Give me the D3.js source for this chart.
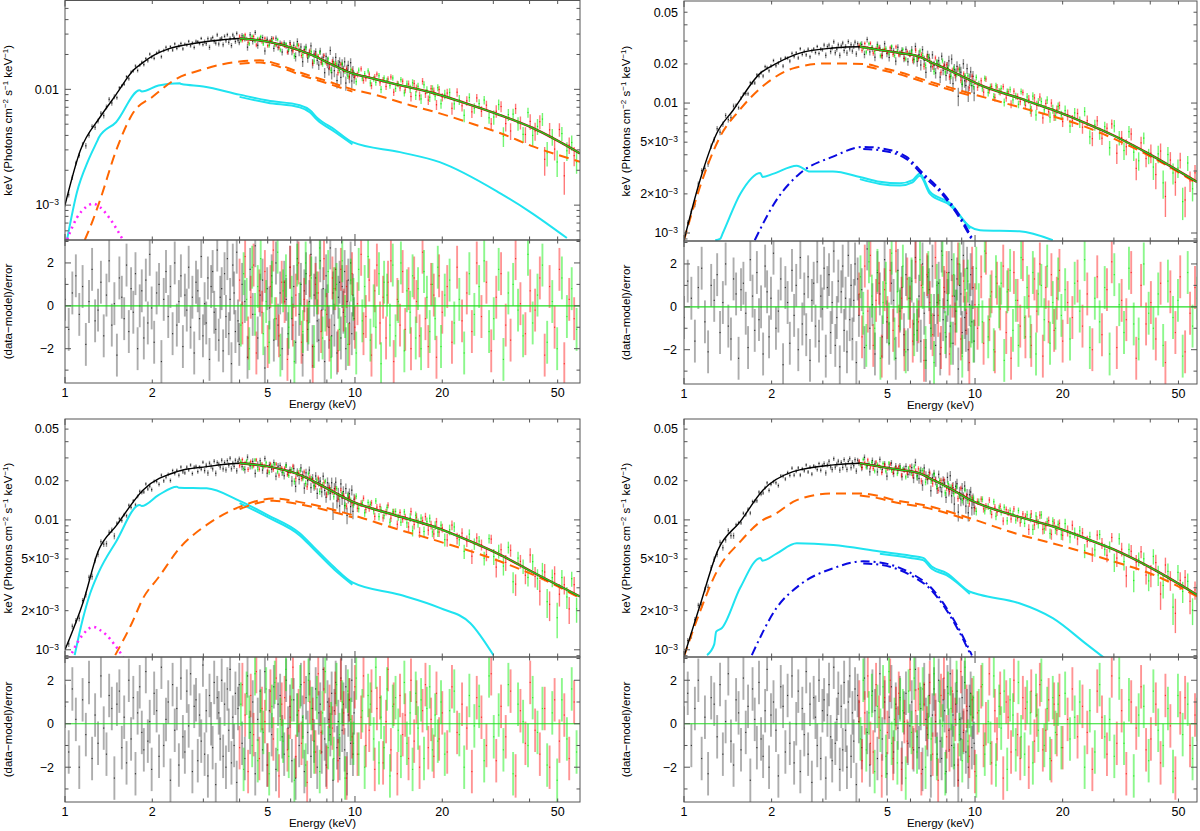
<!DOCTYPE html>
<html>
<head>
<meta charset="utf-8">
<script src="https://cdn.jsdelivr.net/npm/d3@7"></script>
<style>
  body { margin: 0; background: #fff; }
  svg { display: block; font-family: "Liberation Sans", Arial, Helvetica, sans-serif; }
</style>
</head>
<body>
<svg id="chart" width="1200" height="831"></svg>
<script>
// ---------- bin energies (keV) ----------
const xisE = [1.00,1.03,1.06,1.09,1.12,1.15,1.18,1.21,1.24,1.27,1.30,1.33,1.36,1.39,1.42,1.45,1.48,1.51,1.54,1.57,
  1.60,1.63,1.66,1.69,1.72,1.75,1.78,1.81,1.84,1.87,1.90,1.93,1.96,1.99,
  2.03,2.07,2.11,2.15,2.19,2.23,2.27,2.31,2.35,2.39,2.43,2.47,2.51,2.55,2.59,2.63,2.67,2.71,2.75,2.79,
  2.83,2.87,2.91,2.95,2.99,3.03,3.07,3.11,3.15,3.19,3.23,3.27,3.31,3.35,3.39,3.43,3.47,3.51,3.55,3.59,
  3.63,3.67,3.71,3.75,3.79,3.83,3.87,3.91,3.95,3.99,
  4.08,4.17,4.26,4.35,4.44,4.53,4.62,4.71,4.80,4.89,4.98,5.07,5.16,5.25,5.34,5.43,5.52,5.61,5.70,5.79,
  5.88,5.97,6.06,6.15,6.24,6.33,6.42,6.51,6.60,6.69,6.78,6.87,6.96,7.05,7.14,7.23,7.32,7.41,7.50,7.59,
  7.68,7.77,7.86,7.95,8.04,8.13,8.22,8.31,8.40,8.49,8.58,8.67,8.76,8.85,8.94,9.03,9.12,9.21,9.30,9.39,
  9.48,9.57,9.66,9.75,9.84,9.93];
const fpmaE = [4.00,4.09,4.18,4.28,4.37,4.47,4.57,4.68,4.78,4.89,5.00,5.11,5.23,5.35,5.47,5.59,5.72,5.85,5.98,6.11,
  6.25,6.39,6.54,6.68,6.84,6.99,7.15,7.31,7.47,7.64,7.82,7.99,8.17,8.36,8.55,8.74,8.94,9.14,9.35,9.56,
  9.77,9.99,10.2,10.5,10.7,10.9,11.2,11.4,11.7,11.9,12.2,12.5,12.8,13.0,13.3,13.6,14.0,14.3,14.6,14.9,
  15.3,15.6,16.0,16.3,16.7,17.1,17.5,17.9,18.3,18.7,19.1,19.5,20.0,20.8,21.6,22.5,23.4,24.3,25.3,26.3,
  27.3,28.4,29.5,30.7,31.9,33.1,34.4,35.8,37.2,38.7,40.2,41.8,43.4,45.1,46.9,48.8,50.7,52.7,54.8,57.0];
const fpmbE = [4.04,4.13,4.23,4.32,4.42,4.52,4.62,4.73,4.83,4.94,5.06,5.17,5.29,5.41,5.53,5.65,5.78,5.91,6.05,6.18,
  6.32,6.47,6.61,6.76,6.91,7.07,7.23,7.39,7.56,7.73,7.90,8.08,8.27,8.45,8.64,8.84,9.04,9.24,9.45,9.67,
  9.88,10.1,10.3,10.6,10.8,11.1,11.3,11.6,11.8,12.1,12.3,12.6,12.9,13.2,13.5,13.8,14.1,14.4,14.8,15.1,
  15.5,15.8,16.2,16.5,16.9,17.3,17.7,18.1,18.5,18.9,19.3,19.8,20.4,21.2,22.0,22.9,23.8,24.8,25.8,26.8,
  27.9,29.0,30.1,31.3,32.5,33.8,35.1,36.5,38.0,39.5,41.0,42.6,44.3,46.0,47.9,49.8,51.7,53.8,55.9,58.1];

// relative 1-sigma errors of the unfolded points, per energy band (upper band edge)
const xisSigE = [1.5, 2, 3, 4, 6, 8, 10.5];
const xisSig  = [0.05, 0.035, 0.035, 0.045, 0.06, 0.08, 0.11];
const nuSigE  = [6, 10, 15, 20, 30, 40, 61];
const nuSig   = [0.04, 0.05, 0.06, 0.08, 0.10, 0.13, 0.17];

// ---------- panel 1 (top left) ----------
const totE_TL = [1.00,1.13,1.32,1.50,1.72,1.86,2.05,2.30,2.60,2.92,3.50,4.00,5.00,6.45,7.20,8.00,9.80,10.95,14.0,18.6,24.0,31.6,41.3,59.7];
const totV_TL = [1.0e-3,2.98e-3,5.74e-3,9.0e-3,1.46e-2,1.71e-2,2.00e-2,2.26e-2,2.42e-2,2.54e-2,2.68e-2,2.75e-2,2.58e-2,2.17e-2,1.95e-2,1.72e-2,1.37e-2,1.28e-2,1.10e-2,9.3e-3,7.6e-3,6.0e-3,4.6e-3,2.8e-3];
const cyE_TL  = [1.016,1.10,1.20,1.29,1.31,1.50,1.81,1.84,2.10,2.49,2.52,3.00,4.00,5.00,6.45,7.00,7.40,8.50,9.80,14.3,19.6,31.6,40.0,53.8];
const cyV_TL  = [5.0e-4,1.3e-3,2.4e-3,3.55e-3,3.85e-3,5.2e-3,9.8e-3,9.6e-3,1.08e-2,1.13e-2,1.11e-2,1.06e-2,9.0e-3,8.0e-3,7.3e-3,6.6e-3,5.7e-3,4.5e-3,3.5e-3,2.87e-3,2.35e-3,1.27e-3,8.8e-4,5.2e-4];
const orE_TL  = [1.17,1.25,1.32,1.50,1.72,2.00,2.43,2.92,3.50,4.00,4.70,5.20,6.45,8.00,9.80,11.87,15.5,19.6,26.3,31.6,41.3,59.7];
const orV_TL  = [5.0e-4,7.5e-4,1.1e-3,2.95e-3,6.3e-3,8.6e-3,1.24e-2,1.46e-2,1.65e-2,1.74e-2,1.78e-2,1.70e-2,1.40e-2,1.18e-2,1.00e-2,8.9e-3,7.3e-3,6.2e-3,4.9e-3,4.2e-3,3.2e-3,2.37e-3];
const mgE_TL  = [1.00,1.04,1.10,1.18,1.25,1.32,1.42,1.52,1.60];
const mgV_TL  = [4.5e-4,5.8e-4,7.8e-4,9.6e-4,1.03e-3,9.6e-4,7.8e-4,6.0e-4,4.8e-4];
const resXis_TL = [0.3,-1.1,0.6,1.4,-0.4,0.9,-1.8,0.2,1.7,-0.7, -0.2,1.1,-1.4,0.5,2.1,-0.9,0.1,-2.3,1.3,0.4,
  -0.6,1.9,-1.2,0.8,-0.3,1.5,-2.0,0.0,0.7,-1.5, 1.2,-0.8,2.4,-0.1,-1.7,0.6,1.0,-2.6,0.3,1.6,
  -0.5,0.9,-1.3,2.0,-0.9,0.2,1.4,-1.9,0.5,-0.2, 1.8,-1.0,0.4,-2.2,1.1,0.7,-0.6,2.3,-1.4,0.1,
  -0.8,1.3,-2.5,0.9,1.6,-0.3,-1.1,2.6,-1.6,0.4, 0.8,-2.1,1.5,-0.5,2.2,-1.3,0.3,-2.7,1.9,0.6,
  -1.2,2.5,-0.7,-1.8,1.0,0.2,-2.4,1.7,-0.4,2.8, -1.5,0.5,1.2,-2.9,0.8,-0.1,1.4,-1.6,2.0,-0.9,
  0.6,-2.0,1.1,0.3,-1.3,1.8,-0.6,0.9,-1.7,2.2, -0.4,1.0,-2.3,0.7,1.5,-1.1,0.2,2.4,-1.9,0.5,
  1.3,-0.7,-1.6,2.1,-0.2,0.8,-2.6,1.4,0.0,-1.0, 2.7,-1.4,0.6,-0.9,1.7,-2.2,0.4,1.1,-1.5,0.9,
  -0.3,1.6,-2.0,0.2,1.2,-0.8,2.0,-1.3,0.5,-0.6];
const resFpma_TL = [1.2,-0.8,2.3,-1.5,0.4,1.9,-2.2,0.7,-0.3,1.6, -1.9,0.9,2.6,-0.6,-1.4,1.1,0.2,-2.5,1.8,-0.9,
  0.5,2.0,-1.7,0.3,-0.7,1.4,-2.8,1.0,0.6,-1.2, 2.2,-0.4,-1.6,1.3,0.8,-2.1,1.7,-0.2,0.9,-1.8,
  1.5,-1.0,0.1,2.4,-1.3,-0.5,1.2,-2.3,0.7,1.9, -0.8,0.4,-1.5,1.1,2.1,-2.6,0.3,-0.9,1.6,-1.1,
  0.8,-2.0,1.3,0.2,-1.4,2.5,-0.6,-1.9,1.0,0.5, -2.4,1.4,-0.3,0.9,-1.7,1.8,-0.7,0.6,-1.2,2.0,
  -0.5,1.1,-2.1,0.4,1.5,-0.9,-1.6,2.2,0.1,-1.3, 0.7,-0.2,1.3,-2.3,0.9,-1.0,1.7,-2.7,0.3,-0.6];
const resFpmb_TL = [-0.9,1.5,0.3,-2.0,1.8,-0.4,0.9,2.2,-1.3,0.2, -1.7,1.1,-0.6,2.5,-2.3,0.7,1.4,-1.0,0.4,-2.6,
  1.9,0.1,-1.2,2.0,-0.8,1.3,-1.9,0.6,2.7,-1.5, -0.2,1.6,-2.4,0.8,1.0,-1.1,2.1,-0.5,-1.8,1.2,
  0.3,-2.2,1.7,-0.7,0.9,2.3,-1.6,0.0,-1.0,1.5, -2.7,1.1,0.5,-0.9,1.9,-1.4,0.2,2.0,-2.1,0.7,
  -0.3,1.4,-1.5,0.8,-2.0,1.6,0.4,-1.2,1.0,-0.6, 1.8,-1.9,0.5,1.2,-0.8,0.3,-2.2,1.5,-0.4,0.9,
  2.1,-1.2,-0.6,1.7,-2.5,0.6,1.0,-0.2,-1.4,2.4, -0.8,0.5,1.9,-1.7,0.2,-2.0,1.3,-0.5,0.8,-1.1];

// ---------- panel 2 (top right) ----------
const totE_TR = [1.00,1.135,1.296,1.475,1.83,2.08,2.50,3.25,4.02,4.71,5.50,6.46,7.00,8.20,9.60,10.4,14.2,18.5,24.2,29.8,39.0,57.9];
const totV_TR = [8.8e-4,2.55e-3,5.85e-3,8.8e-3,1.70e-2,2.02e-2,2.42e-2,2.65e-2,2.71e-2,2.56e-2,2.43e-2,2.27e-2,2.08e-2,1.78e-2,1.50e-2,1.38e-2,1.09e-2,8.85e-3,6.95e-3,5.65e-3,4.14e-3,2.47e-3];
const orE_TR  = [1.00,1.135,1.33,1.55,1.83,1.92,2.37,3.10,4.25,4.71,5.40,7.00,9.60,14.2,18.5,24.2,29.8,40.8,57.9];
const orV_TR  = [8.8e-4,2.27e-3,5.5e-3,8.8e-3,1.30e-2,1.42e-2,1.85e-2,2.02e-2,1.99e-2,1.88e-2,1.75e-2,1.46e-2,1.19e-2,9.3e-3,7.9e-3,6.5e-3,5.35e-3,3.8e-3,2.4e-3];
const cyE_TR  = [1.28,1.33,1.36,1.56,1.83,1.86,2.02,2.44,2.71,3.25,4.02,4.71,5.52,6.10,6.46,7.00,8.20,9.60,10.4,14.2,18.5];
const cyV_TR  = [8.8e-4,9.0e-4,1.0e-3,2.0e-3,2.9e-3,2.7e-3,2.85e-3,3.3e-3,2.97e-3,2.97e-3,2.7e-3,2.48e-3,2.41e-3,2.55e-3,2.87e-3,2.08e-3,1.7e-3,1.12e-3,1.05e-3,1.03e-3,8.8e-4];
const blE_TR  = [1.75,2.08,2.50,3.25,4.13,4.71,5.80,6.63,7.60,8.90,9.85];
const blV_TR  = [8.8e-4,1.8e-3,2.87e-3,3.87e-3,4.6e-3,4.5e-3,3.87e-3,2.87e-3,2.14e-3,1.33e-3,8.8e-4];
const resXis_TR = [-0.5,1.2,0.4,-1.6,0.9,1.8,-0.7,-2.1,1.0,0.3, 1.5,-1.2,0.2,2.0,-0.9,-1.5,1.3,0.6,-2.4,0.8,
  1.1,-0.3,-1.9,2.2,0.5,-1.1,1.6,-0.6,0.0,-2.2, 1.9,0.7,-1.4,0.4,2.5,-1.0,-0.2,1.3,-2.7,0.9,
  0.2,-1.7,1.7,-0.4,1.0,-2.0,2.3,-0.8,0.6,-1.3, 1.4,-2.5,0.3,1.1,-0.9,2.1,-1.6,0.5,-0.1,1.8,
  -2.3,0.9,1.5,-1.2,0.2,2.6,-1.8,-0.5,1.2,-2.8, 0.7,1.9,-1.1,0.4,-2.1,2.4,-0.6,1.0,-1.5,0.3,
  2.0,-2.6,1.3,-0.4,0.8,-1.9,2.7,-1.0,0.1,-2.2, 1.6,0.6,-1.4,2.2,-0.7,-1.7,1.1,0.3,-2.4,1.7,
  -0.2,0.9,-1.3,1.5,-2.0,0.4,1.2,-0.8,2.3,-1.1, 0.5,-1.6,2.0,-0.3,-2.5,1.4,0.8,-1.0,1.9,-0.4,
  -1.8,0.2,1.1,-2.2,2.6,-0.6,0.7,-1.4,0.3,1.6, -0.9,2.2,-1.7,0.5,-0.2,1.3,-2.9,1.0,0.6,-1.2,
  2.4,-0.5,-1.1,1.8,-2.0,0.1,1.5,-0.7,0.9,-1.6];
const resFpma_TR = [0.6,-1.4,1.9,-0.2,2.4,-1.8,0.3,1.1,-2.3,0.8, -0.5,1.7,-1.1,2.6,-0.9,0.4,-2.0,1.3,0.0,-1.6,
  2.1,-0.7,1.0,-2.5,1.5,0.2,-1.3,2.3,-0.4,-1.9, 0.9,1.6,-2.2,0.5,-0.8,2.0,-1.5,1.2,-0.3,-2.6,
  1.8,0.1,-1.0,1.4,-1.7,2.5,-0.6,0.7,-2.1,1.1, -0.1,1.9,-1.2,0.8,-2.4,1.6,0.3,-0.9,2.2,-1.4,
  0.5,-1.8,1.3,-0.2,2.0,-2.3,0.9,-0.7,1.5,-1.1, 0.4,1.7,-1.6,0.2,-0.5,1.2,-0.9,0.6,-2.0,1.4,
  -1.3,0.8,2.1,-1.9,0.3,-0.6,1.6,-2.4,1.0,-0.8, 0.2,-1.5,1.1,-2.6,0.7,-1.2,1.4,-2.1,-0.3,0.9];
const resFpmb_TR = [1.4,-0.3,-1.8,2.1,0.5,-1.0,1.7,-2.4,0.2,1.1, -0.8,2.5,-1.5,0.7,-0.1,1.9,-2.1,0.4,1.3,-1.3,
  -0.6,2.2,0.9,-1.9,1.6,-0.4,-2.6,1.0,0.3,2.4, -1.2,0.6,-1.7,1.5,-0.2,2.0,-2.3,0.8,1.2,-0.9,
  -1.6,1.8,0.1,-0.7,2.6,-1.4,0.5,-2.0,1.4,0.0, 1.1,-2.5,0.7,1.7,-1.1,0.3,-1.8,2.3,-0.5,0.9,
  -1.4,1.6,-2.2,0.6,1.0,-0.6,1.9,-1.7,0.2,-1.0, 1.3,-0.4,0.8,-1.5,1.1,-0.2,2.2,-1.9,0.4,-0.7,
  0.9,-2.2,1.5,0.1,-1.2,1.8,-0.8,-1.5,2.0,-0.3, -1.0,0.6,-1.8,1.2,-0.5,0.3,-2.3,1.6,-0.9,0.4];

// ---------- panel 3 (bottom left) ----------
const totE_BL = [1.00,1.157,1.30,1.51,1.86,2.43,3.08,4.00,5.00,6.45,8.00,9.80,13.5,18.6,24.0,31.6,42.0,59.7];
const totV_BL = [1.0e-3,2.35e-3,5.7e-3,9.15e-3,1.70e-2,2.35e-2,2.57e-2,2.73e-2,2.58e-2,2.22e-2,1.75e-2,1.38e-2,1.10e-2,8.9e-3,7.1e-3,5.4e-3,3.85e-3,2.57e-3];
const cyE_BL  = [1.08,1.15,1.22,1.29,1.31,1.50,1.81,1.84,2.10,2.43,2.47,3.08,4.00,5.00,6.45,7.20,8.50,9.80,14.3,19.6,25.0,30.0];
const cyV_BL  = [9.1e-4,1.7e-3,2.7e-3,3.7e-3,4.0e-3,6.8e-3,1.30e-2,1.28e-2,1.55e-2,1.80e-2,1.77e-2,1.75e-2,1.40e-2,1.09e-2,7.9e-3,6.2e-3,4.3e-3,3.3e-3,2.65e-3,2.1e-3,1.6e-3,9.1e-4];
const orE_BL  = [1.49,1.70,1.86,2.10,2.49,3.08,4.00,5.23,6.45,9.80,13.5,19.6,31.6,45.0,59.7];
const orV_BL  = [9.1e-4,1.6e-3,2.5e-3,3.6e-3,6.1e-3,9.15e-3,1.26e-2,1.46e-2,1.37e-2,1.09e-2,8.7e-3,6.8e-3,4.8e-3,3.45e-3,2.5e-3];
const mgE_BL  = [1.00,1.07,1.15,1.25,1.32,1.39,1.48,1.57,1.62];
const mgV_BL  = [7.0e-4,1.0e-3,1.3e-3,1.5e-3,1.42e-3,1.3e-3,1.1e-3,9.1e-4,8.0e-4];
const resXis_BL = [0.8,-1.3,1.6,0.2,-2.0,1.1,-0.5,1.9,-1.6,0.4, -0.9,2.2,-0.2,-1.4,1.3,0.7,-2.5,0.9,1.5,-1.1,
  0.3,-1.8,2.0,-0.7,1.2,-2.3,0.5,1.7,-0.4,-1.2, 2.4,-0.8,0.1,-2.1,1.4,0.6,-1.5,2.6,-1.0,0.2,
  1.0,-2.6,1.8,-0.3,0.7,-1.9,2.1,-0.6,-1.3,1.5, -0.1,2.3,-2.2,0.8,1.1,-1.7,0.4,-0.8,2.7,-1.4,
  0.6,-2.4,1.3,0.0,-1.1,1.9,-2.8,1.2,0.5,-0.7, 2.0,-1.5,0.9,-2.0,1.6,-0.3,2.5,-1.8,0.3,-1.0,
  1.4,-2.7,0.7,1.8,-0.9,-1.6,2.2,-0.4,1.0,-2.3, 0.2,1.5,-1.2,2.4,-1.9,0.6,-0.5,1.7,-2.1,0.9,
  1.3,-0.6,-1.4,2.0,-0.2,0.8,-1.7,1.1,-2.5,0.4, -1.0,1.8,0.3,-2.2,1.2,-0.4,2.3,-1.5,0.7,-0.8,
  1.6,-2.0,0.5,0.9,-1.3,2.5,-0.7,-1.9,1.0,0.2, -0.5,1.4,-2.6,0.6,1.9,-1.1,0.1,-1.6,2.1,-0.3,
  0.9,-1.2,1.7,-2.3,0.4,1.1,-0.9,2.0,-1.4,0.5];
const resFpma_BL = [-1.1,1.8,0.4,-2.2,1.3,-0.5,2.4,-1.6,0.7,0.1, -1.9,1.5,-0.7,2.1,-2.4,0.9,1.2,-1.2,0.3,2.6,
  -1.5,0.6,-0.9,1.9,-2.7,1.0,0.2,-1.3,2.3,-0.4, 1.6,-2.0,0.8,-0.2,1.4,-1.7,2.0,0.5,-2.5,1.1,
  -0.6,1.7,-1.4,0.3,2.2,-1.0,-0.3,1.5,-2.1,0.7, 1.2,-1.8,0.1,2.5,-1.2,0.9,-2.3,1.3,-0.5,0.4,
  -1.6,2.0,-0.8,1.0,-2.0,0.6,1.8,-1.1,0.2,-1.5, 1.4,-0.7,0.5,-1.3,1.7,-0.4,0.9,-0.2,-2.2,1.2,
  0.3,-1.0,2.3,-1.7,0.8,-0.6,1.5,-2.4,0.6,-0.9, 1.9,-0.3,-1.4,0.7,-2.0,1.1,-0.8,0.4,-1.6,1.0];
const resFpmb_BL = [0.9,-2.1,1.4,0.3,-1.0,2.3,-1.7,0.6,-0.4,1.6, -2.3,0.8,1.9,-1.2,0.2,-0.8,2.5,-1.5,1.1,-2.6,
  0.4,1.7,-0.6,-1.9,2.0,0.7,-1.3,1.2,-2.2,0.5, 2.4,-1.1,0.0,-1.6,1.8,-0.5,1.0,-2.5,1.5,0.2,
  -0.9,2.1,-1.4,0.6,-2.0,1.3,0.9,-0.7,2.6,-1.8, 0.3,-1.1,1.6,-2.4,0.8,1.2,-0.3,-1.5,1.9,-0.9,
  0.5,-2.1,1.4,-0.2,1.1,-1.6,0.7,1.7,-1.2,0.4, -0.8,1.0,-1.4,0.6,1.5,-0.5,-2.0,1.3,-0.1,0.8,
  -1.7,2.2,-0.6,0.4,-1.2,1.8,-2.3,0.9,0.1,-1.0, 1.2,-0.4,0.7,-1.9,0.5,-2.6,1.1,-0.7,1.6,-1.3];

// ---------- panel 4 (bottom right) ----------
const totE_BR = [1.00,1.135,1.31,1.56,1.87,2.37,3.26,4.02,4.71,5.50,6.46,7.00,8.20,9.60,10.4,13.5,18.5,24.2,29.8,40.8,57.9];
const totV_BR = [8.9e-4,2.2e-3,5.9e-3,9.7e-3,1.70e-2,2.35e-2,2.65e-2,2.73e-2,2.57e-2,2.43e-2,2.28e-2,2.09e-2,1.75e-2,1.43e-2,1.32e-2,1.09e-2,8.9e-3,7.15e-3,5.95e-3,4.2e-3,2.65e-3];
const orE_BR  = [1.00,1.135,1.296,1.56,1.87,2.03,2.44,3.26,4.02,4.71,5.10,7.00,9.60,14.2,18.5,29.8,40.8,57.9];
const orV_BR  = [8.9e-4,1.97e-3,4.0e-3,6.8e-3,1.00e-2,1.09e-2,1.42e-2,1.60e-2,1.60e-2,1.52e-2,1.45e-2,1.27e-2,1.03e-2,7.7e-3,6.6e-3,4.8e-3,3.8e-3,2.57e-3];
const cyE_BR  = [1.20,1.27,1.29,1.35,1.56,1.83,1.86,2.08,2.44,3.26,4.71,6.00,6.63,7.10,7.98,9.60,10.4,14.2,18.5,24.2,27.7];
const cyV_BR  = [9.1e-4,1.1e-3,1.38e-3,1.47e-3,3.0e-3,5.1e-3,4.85e-3,5.5e-3,6.6e-3,6.4e-3,5.7e-3,5.3e-3,5.1e-3,4.37e-3,3.9e-3,2.8e-3,2.65e-3,2.28e-3,1.75e-3,1.1e-3,8.7e-4];
const blE_BR  = [1.71,2.08,2.50,3.26,4.13,4.71,6.13,7.00,7.98,8.90,9.75];
const blV_BR  = [9.1e-4,2.1e-3,3.16e-3,4.25e-3,4.8e-3,4.7e-3,3.8e-3,3.07e-3,2.1e-3,1.38e-3,9.1e-4];
const resXis_BR = [-0.2,1.4,-1.0,0.7,2.0,-1.6,0.3,-2.3,1.2,0.9, -0.6,1.8,-1.4,0.1,2.3,-0.8,-1.9,1.1,0.5,-1.2,
  2.1,-0.4,0.8,-2.6,1.6,0.2,-1.1,1.9,-0.7,-1.5, 0.6,2.5,-2.0,0.4,1.0,-0.3,-2.4,1.7,0.8,-1.3,
  1.3,-0.9,2.2,-1.8,0.0,1.5,-2.2,0.7,-0.5,2.4, -1.4,0.9,-2.7,1.2,0.3,-1.0,2.0,-1.6,0.6,1.1,
  -2.5,0.4,1.8,-0.6,-1.7,2.6,-0.9,0.2,1.4,-2.1, 0.8,-1.2,1.9,-0.3,-2.0,1.0,2.2,-1.5,0.5,-0.8,
  1.6,-2.8,1.3,0.1,-1.1,2.1,-0.4,-1.9,1.5,0.6, -1.6,2.3,-0.7,1.0,-2.3,0.3,1.7,-1.3,0.9,-0.2,
  1.2,-1.8,0.5,1.4,-0.9,-0.1,1.0,-1.2,2.5,-0.6, -1.1,0.7,-2.1,1.8,0.2,-0.5,1.3,-2.4,0.4,1.6,
  0.1,-1.4,2.0,-0.8,-1.6,1.1,0.6,-2.2,1.7,-0.3, 2.3,-1.0,0.4,-1.9,0.9,1.5,-2.6,0.2,-0.7,1.2,
  -0.4,1.9,-1.3,0.6,-2.0,0.8,1.4,-1.1,0.3,-0.9];
const resFpma_BR = [1.0,-1.7,0.5,2.2,-0.9,-1.3,1.8,0.3,-2.4,1.2, -0.4,2.0,-1.6,0.7,1.4,-2.1,0.1,-0.8,2.5,-1.1,
  0.6,1.6,-2.3,0.9,-0.2,1.9,-1.4,0.4,-2.6,1.3, 2.1,-0.6,-1.2,1.5,0.2,-1.9,2.4,-0.3,0.8,-1.5,
  1.1,-2.2,0.5,1.7,-1.0,0.0,2.3,-1.8,0.6,-0.7, 1.4,-2.5,1.0,0.3,-1.3,2.0,-0.5,-1.6,1.2,0.7,
  -2.0,1.5,-0.8,0.4,1.8,-1.2,-0.3,1.1,-1.7,0.9, -0.5,1.3,-1.1,0.2,1.6,-0.6,0.8,-0.4,-2.1,1.5,
  0.3,-1.4,2.2,-0.9,0.6,-2.3,1.0,-0.2,1.7,-1.2, -0.7,0.9,-1.8,1.3,-0.1,-2.5,0.5,1.2,-1.0,0.4];
const resFpmb_BR = [-0.7,2.0,-1.2,0.5,1.3,-2.2,0.8,-0.3,1.7,-1.5, 2.4,-0.9,0.2,-1.8,1.1,0.6,-2.5,1.5,-0.4,2.1,
  -1.3,0.9,1.6,-2.0,0.3,-0.7,2.3,-1.6,1.0,-0.1, -2.3,1.4,0.7,-1.1,1.9,-0.5,-1.7,2.6,-0.8,0.4,
  1.2,-2.4,0.6,1.8,-1.4,0.1,-0.9,2.2,-1.9,0.8, -0.2,1.5,-2.1,1.1,0.4,-1.2,1.9,-0.6,-1.4,1.0,
  0.5,-1.8,1.3,-0.3,2.0,-1.0,0.7,-1.6,1.2,-0.4, 0.9,-1.1,1.4,-0.7,0.3,1.0,-2.0,0.6,-1.3,1.8,
  -0.6,0.2,-1.5,2.1,-0.9,1.1,-2.4,0.4,0.8,-1.7, 1.5,-0.3,-1.0,0.7,-2.2,1.3,-0.5,0.9,-1.6,0.2];

// y tick labels
const ylabTL   = [0.01, 0.001];
const ylabFull = [0.05, 0.02, 0.01, 0.005, 0.002, 0.001];
const resLabels = [2, 0, -2];
const xLabels = [1, 2, 5, 10, 20, 50];

// ---------- layout ----------
const panels = [
  { tot: [totE_TL, totV_TL], cyan: [cyE_TL, cyV_TL], orange: [orE_TL, orV_TL], magenta: [mgE_TL, mgV_TL],
    res: [resXis_TL, resFpma_TL, resFpmb_TL], ylab: ylabTL,
    box: { x0: 65, x1: 580, xmax: 59.7, top: 0.5, mid: 240, bot: 383, ymin: 5.0e-4, ymax: 0.0585, tx: 8, rl: 11 } },
  { tot: [totE_TR, totV_TR], cyan: [cyE_TR, cyV_TR], orange: [orE_TR, orV_TR], blue: [blE_TR, blV_TR],
    res: [resXis_TR, resFpma_TR, resFpmb_TR], ylab: ylabFull,
    box: { x0: 684, x1: 1197, xmax: 57.9, top: 1, mid: 241, bot: 384, ymin: 8.68e-4, ymax: 0.061, tx: 626, rl: 7 } },
  { tot: [totE_BL, totV_BL], cyan: [cyE_BL, cyV_BL], orange: [orE_BL, orV_BL], magenta: [mgE_BL, mgV_BL],
    res: [resXis_BL, resFpma_BL, resFpmb_BL], ylab: ylabFull,
    box: { x0: 65, x1: 580, xmax: 59.7, top: 419, mid: 657, bot: 802, ymin: 8.8e-4, ymax: 0.0598, tx: 8, rl: 11 } },
  { tot: [totE_BR, totV_BR], cyan: [cyE_BR, cyV_BR], orange: [orE_BR, orV_BR], blue: [blE_BR, blV_BR],
    res: [resXis_BR, resFpma_BR, resFpmb_BR], ylab: ylabFull,
    box: { x0: 684, x1: 1197, xmax: 57.9, top: 419, mid: 657, bot: 802, ymin: 8.8e-4, ymax: 0.0598, tx: 626, rl: 7 } }
];

const svg = d3.select("#chart");
const defs = svg.append("defs");
const FRAME = "#555";

// model value at any energy: piecewise power law between the model knots
function logLookup(E, V) {
  const s = d3.scaleLinear().domain(E.map(Math.log10)).range(V.map(Math.log10));
  return e => Math.pow(10, s(Math.log10(e)));
}
function sigmaAt(edges, vals, e) {
  return vals[Math.min(d3.bisectLeft(edges, e), vals.length - 1)];
}
function supLabel(sel, pieces, supSize) {
  let up = false;
  pieces.forEach(([t, sup]) => {
    const ts = sel.append("tspan").text(t);
    if (sup) { ts.attr("dy", up ? 0 : -4).attr("font-size", supSize); up = true; }
    else if (up) { ts.attr("dy", 4); up = false; }
  });
}
function logLabelPieces(v) {
  if (v >= 0.01) return [[String(v), false]];
  const m = Math.round(v / 1e-3);
  return [[m === 1 ? "10" : m + "\u00d710", false], ["\u22123", true]];
}

const xMajor = [1, 10], xMinor = [2, 3, 4, 5, 6, 7, 8, 9, 20, 30, 40, 50];
const yLogMajor = [1e-3, 1e-2];
const yLogMinor = [5e-4, 6e-4, 7e-4, 8e-4, 9e-4, 2e-3, 3e-3, 4e-3, 5e-3, 6e-3, 7e-3, 8e-3, 9e-3, 0.02, 0.03, 0.04, 0.05];
const yResMajor = [-2, 0, 2], yResMinor = [-3, -1, 1, 3];

panels.forEach((p, k) => {
  const b = p.box;
  const g = svg.append("g");
  const x = d3.scaleLog().domain([1, b.xmax]).range([b.x0, b.x1]);
  const ys = d3.scaleLog().domain([b.ymin, b.ymax]).range([b.mid, b.top]);
  const yr = d3.scaleLinear().domain([-3.6, 3.07]).range([b.bot, b.mid]);

  defs.append("clipPath").attr("id", "cs" + k).append("rect")
    .attr("x", b.x0).attr("y", b.top).attr("width", b.x1 - b.x0).attr("height", b.mid - b.top);
  defs.append("clipPath").attr("id", "cr" + k).append("rect")
    .attr("x", b.x0).attr("y", b.mid).attr("width", b.x1 - b.x0).attr("height", b.bot - b.mid);
  const sp = g.append("g").attr("clip-path", `url(#cs${k})`);
  const rp = g.append("g").attr("clip-path", `url(#cr${k})`);

  const model = logLookup(p.tot[0], p.tot[1]);
  const sets = [
    { E: xisE,  r: p.res[0], sigE: xisSigE, sig: xisSig, col: "#000000", op: 0.32 },
    { E: fpmaE, r: p.res[1], sigE: nuSigE,  sig: nuSig,  col: "#ff0000", op: 0.42 },
    { E: fpmbE, r: p.res[2], sigE: nuSigE,  sig: nuSig,  col: "#00ee00", op: 0.45 }
  ];

  // data points (unfolded spectrum) and residuals
  sets.forEach(s => {
    const pts = d3.zip(s.E, s.r).map(([e, r]) => {
      const m = model(e), sg = sigmaAt(s.sigE, s.sig, e);
      return { e, r, c: m * (1 + r * sg), lo: m * (1 + (r - 1) * sg), hi: m * (1 + (r + 1) * sg) };
    });
    sp.append("g").selectAll("line").data(pts).join("line")
      .attr("x1", d => x(d.e)).attr("x2", d => x(d.e))
      .attr("y1", d => ys(d.lo)).attr("y2", d => ys(d.hi))
      .attr("stroke", s.col).attr("stroke-opacity", s.op + 0.1).attr("stroke-width", 1.4);
    sp.append("g").selectAll("rect").data(pts).join("rect")
      .attr("x", d => x(d.e) - 0.6).attr("y", d => ys(d.c) - 0.6)
      .attr("width", 1.2).attr("height", 1.2).attr("fill", s.col).attr("fill-opacity", 0.8);

    rp.append("g").selectAll("line").data(pts).join("line")
      .attr("x1", d => x(d.e)).attr("x2", d => x(d.e))
      .attr("y1", d => yr(d.r - 1)).attr("y2", d => yr(d.r + 1))
      .attr("stroke", s.col).attr("stroke-opacity", s.op).attr("stroke-width", 1.9);
    rp.append("g").selectAll("rect").data(pts).join("rect")
      .attr("x", d => x(d.e) - 0.6).attr("y", d => yr(d.r) - 0.6)
      .attr("width", 1.2).attr("height", 1.2).attr("fill", s.col).attr("fill-opacity", 0.7);
  });

  // model components
  const line = d3.line().x(d => x(d[0])).y(d => ys(d[1])).curve(d3.curveMonotoneX);
  function comp(ev, stroke, width, dash) {
    const pts = d3.zip(ev[0], ev[1]);
    const draw = (data, shift) => sp.append("path").attr("d", line(data))
      .attr("fill", "none").attr("stroke", stroke).attr("stroke-width", width)
      .attr("stroke-dasharray", dash).attr("transform", `translate(0,${shift})`);
    draw(pts, 0);
    // second instrument's copy of the component (visible as a double line at 4-10 keV)
    const nu = pts.filter(d => d[0] >= 4 && d[0] <= 10);
    if (nu.length > 1) draw(nu, 2.2);
  }
  comp(p.cyan, "#1fe3f0", 2, null);
  comp(p.orange, "#ff6600", 2, "10,6");
  if (p.magenta) comp(p.magenta, "#ff22ff", 2.5, "2,4");
  if (p.blue) comp(p.blue, "#0a0ae0", 2, "9,4,2,4");

  // total model for each instrument
  const tot = d3.zip(p.tot[0], p.tot[1]);
  sp.append("path").attr("d", line(tot.filter(d => d[0] <= 10)))
    .attr("fill", "none").attr("stroke", "#000").attr("stroke-width", 1.4);
  sp.append("path").attr("d", line(tot.filter(d => d[0] >= 4)))
    .attr("fill", "none").attr("stroke", "#aa0000").attr("stroke-width", 2.4);
  sp.append("path").attr("d", line(tot.filter(d => d[0] >= 4)))
    .attr("fill", "none").attr("stroke", "#22d022").attr("stroke-width", 1.4);

  // zero line of the residuals
  rp.append("line").attr("x1", b.x0).attr("x2", b.x1).attr("y1", yr(0)).attr("y2", yr(0))
    .attr("stroke", "#22dd22").attr("stroke-width", 1.2);

  // frames and ticks
  function frame(top, bot, yScale, yMaj, yMin) {
    g.append("rect").attr("x", b.x0).attr("y", top).attr("width", b.x1 - b.x0).attr("height", bot - top)
      .attr("fill", "none").attr("stroke", FRAME).attr("stroke-width", 1);
    const tk = g.append("g").attr("stroke", FRAME).attr("stroke-width", 1);
    const xt = xMajor.map(v => [v, 6]).concat(xMinor.filter(v => v < b.xmax).map(v => [v, 3.5]));
    xt.forEach(([v, len]) => {
      tk.append("line").attr("x1", x(v)).attr("x2", x(v)).attr("y1", top).attr("y2", top + len);
      tk.append("line").attr("x1", x(v)).attr("x2", x(v)).attr("y1", bot).attr("y2", bot - len);
    });
    const [d0, d1] = d3.extent(yScale.domain());
    const yt = yMaj.map(v => [v, 6]).concat(yMin.map(v => [v, 3.5])).filter(([v]) => v >= d0 && v <= d1);
    yt.forEach(([v, len]) => {
      tk.append("line").attr("x1", b.x0).attr("x2", b.x0 + len).attr("y1", yScale(v)).attr("y2", yScale(v));
      tk.append("line").attr("x1", b.x1).attr("x2", b.x1 - len).attr("y1", yScale(v)).attr("y2", yScale(v));
    });
  }
  frame(b.top, b.mid, ys, yLogMajor, yLogMinor);
  frame(b.mid, b.bot, yr, yResMajor, yResMinor);

  // tick labels
  p.ylab.forEach(v => {
    const t = g.append("text").attr("x", b.x0 - 6).attr("y", ys(v) + 4.3)
      .attr("text-anchor", "end").attr("font-size", 12.5).attr("fill", "#000");
    supLabel(t, logLabelPieces(v), 8.5);
  });
  resLabels.forEach(v => {
    g.append("text").attr("x", b.x0 - b.rl).attr("y", yr(v) + 4.3)
      .attr("text-anchor", "end").attr("font-size", 12.5).attr("fill", "#000")
      .text(v < 0 ? "\u2212" + Math.abs(v) : String(v));
  });
  xLabels.forEach(v => {
    g.append("text").attr("x", x(v)).attr("y", b.bot + 13.5)
      .attr("text-anchor", "middle").attr("font-size", 12.5).attr("fill", "#000").text(v);
  });
  g.append("text").attr("x", (b.x0 + b.x1) / 2).attr("y", b.bot + 25)
    .attr("text-anchor", "middle").attr("font-size", 11.5).attr("fill", "#000").text("Energy (keV)");

  // axis titles
  const st = g.append("text")
    .attr("transform", `translate(${b.tx + 4},${(b.top + b.mid) / 2}) rotate(-90)`)
    .attr("text-anchor", "middle").attr("font-size", 11.5).attr("fill", "#000");
  supLabel(st, [["keV (Photons cm", false], ["\u22122", true], [" s", false], ["\u22121", true],
                [" keV", false], ["\u22121", true], [")", false]], 8);
  g.append("text")
    .attr("transform", `translate(${b.tx + 4},${(b.mid + b.bot) / 2}) rotate(-90)`)
    .attr("text-anchor", "middle").attr("font-size", 11.5).attr("fill", "#000")
    .text("(data\u2212model)/error");
});
</script>
</body>
</html>
